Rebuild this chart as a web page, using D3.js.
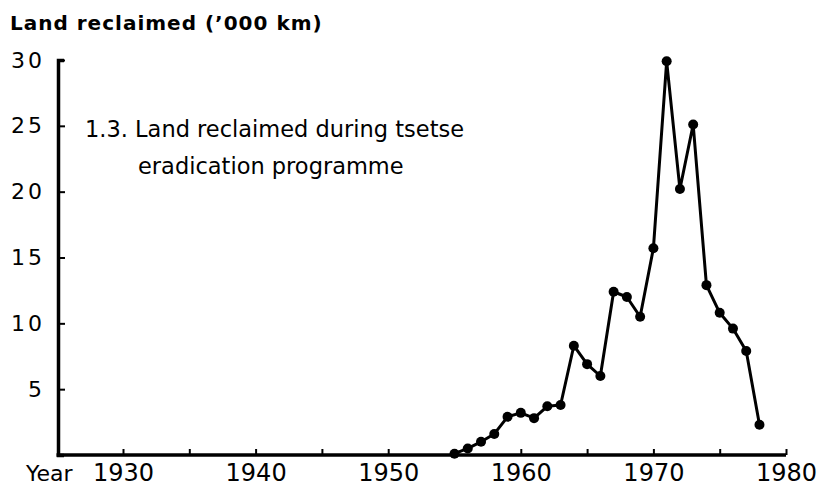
<!DOCTYPE html>
<html>
<head>
<script src="https://d3js.org/d3.v7.min.js"></script>
<style>
  body { margin: 0; background: #fff; }
  text { font-family: "DejaVu Sans", sans-serif; fill: #000; }
</style>
</head>
<body>
<div id="chart"></div>
<script>
// land reclaimed ('000 km) per year
var years = [1955, 1956, 1957, 1958, 1959, 1960, 1961, 1962, 1963, 1964, 1965, 1966,
             1967, 1968, 1969, 1970, 1971, 1972, 1973, 1974, 1975, 1976, 1977, 1978];
var reclaimed = [0.1, 0.5, 1.0, 1.6, 2.9, 3.2, 2.8, 3.7, 3.8, 8.3, 6.9, 6.0,
                 12.4, 12.0, 10.5, 15.7, 29.9, 20.2, 25.1, 12.9, 10.8, 9.6, 7.9, 2.3];

var xTicks = [1930, 1935, 1940, 1945, 1950, 1955, 1960, 1965, 1970, 1975, 1980];
var xLabels = [1930, 1940, 1950, 1960, 1970, 1980];
var yTicks = [5, 10, 15, 20, 25, 30];

var data = years.map(function(yr, i) { return { year: yr, value: reclaimed[i] }; });

var width = 825, height = 489;
var svg = d3.select("#chart").append("svg")
    .attr("width", width)
    .attr("height", height);

var x = d3.scaleLinear().domain([1930, 1980]).range([123, 786]);
var y = d3.scaleLinear().domain([0, 30]).range([455, 60]);
var axisX0 = 58;

// y axis (ticks point inward, hook at the top)
var yAxis = svg.append("g")
    .attr("transform", "translate(" + axisX0 + ",0)")
    .call(d3.axisLeft(y).tickValues(yTicks).tickSizeInner(-7).tickSizeOuter(-6).tickPadding(13));
yAxis.select(".domain").attr("stroke-width", 3.5);
yAxis.selectAll(".tick line").attr("stroke-width", 2);
yAxis.selectAll(".tick text")
    .style("font-size", "22px")
    .style("letter-spacing", "3px");

// x axis
var xAxis = svg.append("g")
    .attr("transform", "translate(0," + y(0) + ")")
    .call(d3.axisBottom(x).tickValues(xTicks).tickSizeInner(-6).tickSizeOuter(0).tickPadding(9)
        .tickFormat(function(d) { return xLabels.indexOf(d) >= 0 ? d : ""; }));
xAxis.select(".domain").remove();
xAxis.append("line")
    .attr("x1", axisX0 - 1.5).attr("x2", x(1980))
    .attr("stroke", "#000").attr("stroke-width", 3.5);
xAxis.selectAll(".tick line").attr("stroke-width", 2);
xAxis.selectAll(".tick text").style("font-size", "24px");

svg.append("text")
    .attr("x", 26).attr("y", 481)
    .style("font-size", "22px")
    .text("Year");

// series
var line = d3.line()
    .x(function(d) { return x(d.year); })
    .y(function(d) { return y(d.value); });

svg.append("path")
    .datum(data)
    .attr("fill", "none")
    .attr("stroke", "#000")
    .attr("stroke-width", 3)
    .attr("stroke-linejoin", "round")
    .attr("d", line);

svg.selectAll(".dot")
    .data(data)
    .enter().append("circle")
    .attr("class", "dot")
    .attr("cx", function(d) { return x(d.year); })
    .attr("cy", function(d) { return y(d.value); })
    .attr("r", 5)
    .attr("fill", "#000");

// axis title and figure caption
svg.append("text")
    .attr("x", 10).attr("y", 30)
    .style("font-size", "20px")
    .style("font-weight", "bold")
    .style("letter-spacing", "1px")
    .text("Land reclaimed (\u2019000 km)");

svg.append("text")
    .attr("x", 85).attr("y", 137)
    .style("font-size", "22.5px")
    .text("1.3. Land reclaimed during tsetse");

svg.append("text")
    .attr("x", 138).attr("y", 174)
    .style("font-size", "22.5px")
    .text("eradication programme");
</script>
</body>
</html>
